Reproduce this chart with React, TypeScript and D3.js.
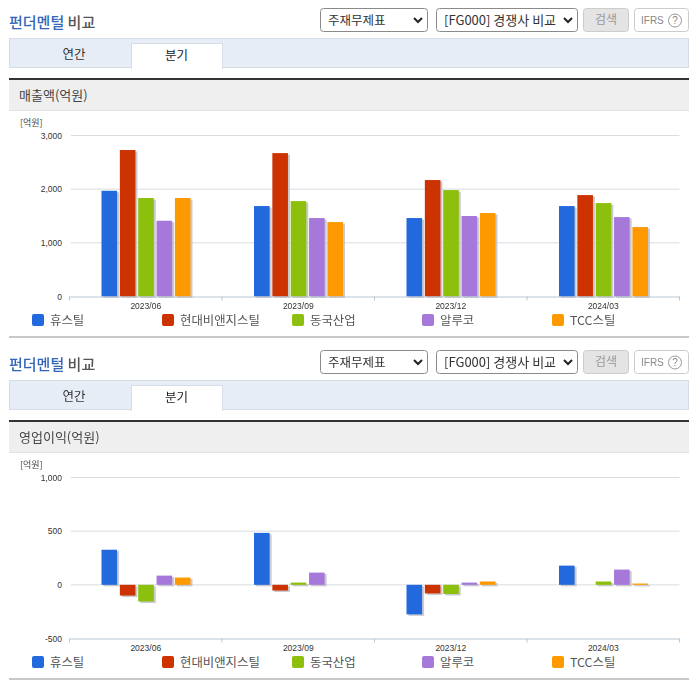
import React, { useEffect, useRef } from "react";
import * as d3 from "d3";

const periods = ["2023/06", "2023/09", "2023/12", "2024/03"];
const companies = ["휴스틸", "현대비앤지스틸", "동국산업", "알루코", "TCC스틸"];
const colors = ["#2169dd", "#cc3300", "#8cc00d", "#a678da", "#ff9900"];

// 회사별 분기 값 (억원)
const salesHustil = [1970, 1685, 1462, 1685];
const salesHyundai = [2730, 2672, 2170, 1890];
const salesDongkuk = [1835, 1778, 1983, 1741];
const salesAluko = [1412, 1462, 1500, 1480];
const salesTcc = [1835, 1387, 1555, 1294];

const profitHustil = [327, 484, -275, 179];
const profitHyundai = [-100, -53, -80, 0];
const profitDongkuk = [-155, 21, -85, 31];
const profitAluko = [86, 114, 21, 142];
const profitTcc = [68, 0, 31, 12];

const salesRows = [salesHustil, salesHyundai, salesDongkuk, salesAluko, salesTcc];
const profitRows = [profitHustil, profitHyundai, profitDongkuk, profitAluko, profitTcc];

const salesTicks = [0, 1000, 2000, 3000];
const profitTicks = [-500, 0, 500, 1000];

const KR = "'Noto Sans CJK KR', 'Noto Sans', sans-serif";
const LATIN = "'Liberation Sans', Arial, sans-serif";

const WIDTH = 696;
const HEIGHT = 684;
const PLOT = { left: 69.5, right: 679.5, top: 135.5, bottom: 296.5 };
const PANEL_GAP = 342;

type G = d3.Selection<SVGGElement, unknown, null, undefined>;

function drawSelect(g: G, x: number, w: number, label: string, chevronX: number, size: number) {
    g.append("rect").attr("x", x + 0.5).attr("y", 8.5).attr("width", w).attr("height", 23).attr("rx", 3)
        .attr("fill", "#fff").attr("stroke", "#8a8a8a");
    g.append("text").attr("x", x + 8).attr("y", 24.5).attr("font-family", KR).attr("font-size", size)
        .attr("fill", "#333").text(label);
    g.append("path").attr("d", `M${chevronX - 4},18 L${chevronX},22 L${chevronX + 4},18`)
        .attr("fill", "none").attr("stroke", "#222").attr("stroke-width", 2);
}

function drawPanel(g: G, title: string, rows: number[][], ticks: number[]) {
    // ── 상단 컨트롤 ─────────────────────────────────────────────
    const heading = g.append("text").attr("x", 9).attr("y", 28).attr("font-family", KR)
        .attr("font-size", 15).attr("font-weight", 500);
    heading.append("tspan").attr("fill", "#3366b8").text("펀더멘털");
    heading.append("tspan").attr("fill", "#555").text(" 비교");

    drawSelect(g, 320, 107, "주재무제표", 418, 12.5);
    drawSelect(g, 436, 141, "[FG000] 경쟁사 비교", 568, 13);

    g.append("rect").attr("x", 583.5).attr("y", 8.5).attr("width", 45).attr("height", 23).attr("rx", 3)
        .attr("fill", "#e4e4e4").attr("stroke", "#cccccc");
    g.append("text").attr("x", 606).attr("y", 24).attr("text-anchor", "middle").attr("font-family", KR)
        .attr("font-size", 12).attr("fill", "#999").text("검색");

    g.append("rect").attr("x", 634.5).attr("y", 8.5).attr("width", 54).attr("height", 23).attr("rx", 3)
        .attr("fill", "#fff").attr("stroke", "#cccccc");
    g.append("text").attr("x", 641).attr("y", 24).attr("font-family", LATIN)
        .attr("font-size", 10).attr("fill", "#888").text("IFRS");
    g.append("circle").attr("cx", 675).attr("cy", 20.5).attr("r", 6.5)
        .attr("fill", "#fff").attr("stroke", "#999");
    g.append("text").attr("x", 675).attr("y", 24).attr("text-anchor", "middle").attr("font-family", LATIN)
        .attr("font-size", 10).attr("fill", "#888").text("?");

    // ── 탭 ───────────────────────────────────────────────────────
    g.append("rect").attr("x", 9.5).attr("y", 38.5).attr("width", 679).attr("height", 29)
        .attr("fill", "#e6edf7").attr("stroke", "#d6dde6");
    g.append("rect").attr("x", 131.5).attr("y", 43.5).attr("width", 91).attr("height", 25)
        .attr("fill", "#fff").attr("stroke", "#d6dde6");
    g.append("rect").attr("x", 132).attr("y", 66).attr("width", 90).attr("height", 3).attr("fill", "#fff");
    g.append("text").attr("x", 74).attr("y", 59).attr("text-anchor", "middle").attr("font-family", KR)
        .attr("font-size", 12.5).attr("fill", "#333").text("연간");
    g.append("text").attr("x", 176.5).attr("y", 60).attr("text-anchor", "middle").attr("font-family", KR)
        .attr("font-size", 12.5).attr("fill", "#222").text("분기");

    // ── 차트 제목 영역 ──────────────────────────────────────────
    g.append("rect").attr("x", 9).attr("y", 80).attr("width", 680).attr("height", 30).attr("fill", "#efefef");
    g.append("rect").attr("x", 9).attr("y", 78).attr("width", 680).attr("height", 2).attr("fill", "#333");
    g.append("rect").attr("x", 9).attr("y", 110).attr("width", 680).attr("height", 1).attr("fill", "#e2e2e2");
    g.append("text").attr("x", 19).attr("y", 100).attr("font-family", KR).attr("font-size", 13)
        .attr("fill", "#444").text(title);
    g.append("text").attr("x", 20).attr("y", 126).attr("font-family", KR).attr("font-size", 9)
        .attr("fill", "#444").text("[억원]");

    // ── 스케일 ───────────────────────────────────────────────────
    const x0 = d3.scaleBand<string>().domain(periods).range([PLOT.left, PLOT.right]);
    const x1 = d3.scaleBand<string>().domain(companies).range([32, 121]).paddingInner(0.15);
    const y = d3.scaleLinear()
        .domain([ticks[0], ticks[ticks.length - 1]])
        .range([PLOT.bottom, PLOT.top]);

    // ── 축 ───────────────────────────────────────────────────────
    const yAxis = g.append("g").attr("transform", `translate(${PLOT.left},0)`)
        .call(d3.axisLeft(y).tickValues(ticks).tickSize(0).tickPadding(7.5)
            .tickFormat((d) => d3.format(",d")(d as number).replace("−", "-")));
    yAxis.select(".domain").remove();
    yAxis.selectAll("text").attr("font-family", LATIN).attr("font-size", 8.5).attr("fill", "#333");

    g.append("g").selectAll("line").data(ticks.slice(1)).enter().append("line")
        .attr("x1", PLOT.left + 1.5).attr("x2", PLOT.right)
        .attr("y1", (d) => y(d)).attr("y2", (d) => y(d))
        .attr("stroke", "#d9dde1");

    // ── 막대 ───────────────────────────────────────────────────────
    const bars = rows.flatMap((values, s) =>
        values.map((v, p) => ({ v, s, p }))
    ).filter((d) => d.v !== 0);

    const barX = (d: { s: number; p: number }) => x0(periods[d.p])! + x1(companies[d.s])!;
    const barY = (d: { v: number }) => Math.min(y(d.v), y(0));
    const barH = (d: { v: number }) => Math.abs(y(d.v) - y(0));

    const defs = g.append("defs");
    const blurId = `bar-shadow-${ticks[0]}`;
    defs.append("filter").attr("id", blurId)
        .append("feGaussianBlur").attr("stdDeviation", 0.6);

    g.append("g").attr("filter", `url(#${blurId})`).selectAll("rect").data(bars).enter().append("rect")
        .attr("x", (d) => barX(d) + 2).attr("y", (d) => barY(d) + 1.5)
        .attr("width", x1.bandwidth()).attr("height", barH)
        .attr("fill", "#bdbdc4").attr("opacity", 0.8);
    g.append("g").selectAll("rect").data(bars).enter().append("rect")
        .attr("x", barX).attr("y", barY)
        .attr("width", x1.bandwidth()).attr("height", barH)
        .attr("fill", (d) => colors[d.s]);

    // ── X축 ────────────────────────────────────────────────────────
    const xAxis = g.append("g").attr("transform", `translate(0,${PLOT.bottom})`)
        .call(d3.axisBottom(x0).tickSize(0).tickPadding(6));
    xAxis.select(".domain").attr("stroke", "#b9c6d3");
    xAxis.selectAll("text").attr("font-family", LATIN).attr("font-size", 8.5).attr("fill", "#333");
    g.append("g").selectAll("line").data(periods).enter().append("line")
        .attr("x1", (d) => x0(d)!).attr("x2", (d) => x0(d)!)
        .attr("y1", PLOT.bottom).attr("y2", PLOT.bottom + 4)
        .attr("stroke", "#b9c6d3");
    g.append("line").attr("x1", PLOT.right).attr("x2", PLOT.right)
        .attr("y1", PLOT.bottom).attr("y2", PLOT.bottom + 4).attr("stroke", "#b9c6d3");

    // ── 범례 ───────────────────────────────────────────────────────
    const legend = d3.scalePoint<string>().domain(companies).range([32, 552]);
    const items = g.append("g").selectAll("g").data(companies).enter().append("g")
        .attr("transform", (d) => `translate(${legend(d)},314)`);
    items.append("rect").attr("width", 12).attr("height", 12).attr("rx", 2)
        .attr("fill", (_, i) => colors[i]);
    items.append("text").attr("x", 18).attr("y", 11).attr("font-family", KR).attr("font-size", 12.4)
        .attr("fill", "#555").text((d) => d);

    g.append("rect").attr("x", 9).attr("y", 336).attr("width", 680).attr("height", 2).attr("fill", "#c8c8c8");
}

const App: React.FC = () => {
    const svgRef = useRef<SVGSVGElement | null>(null);

    useEffect(() => {
        if (!svgRef.current) return;
        const svg = d3.select(svgRef.current);
        svg.selectAll("*").remove();
        drawPanel(svg.append("g"), "매출액(억원)", salesRows, salesTicks);
        drawPanel(svg.append("g").attr("transform", `translate(0,${PANEL_GAP})`), "영업이익(억원)", profitRows, profitTicks);
    }, []);

    return (
        <svg
            ref={svgRef}
            width={WIDTH}
            height={HEIGHT}
            viewBox={`0 0 ${WIDTH} ${HEIGHT}`}
            style={{ position: "absolute", left: 0, top: 0, background: "#fff" }}
        />
    );
};

export default App;
